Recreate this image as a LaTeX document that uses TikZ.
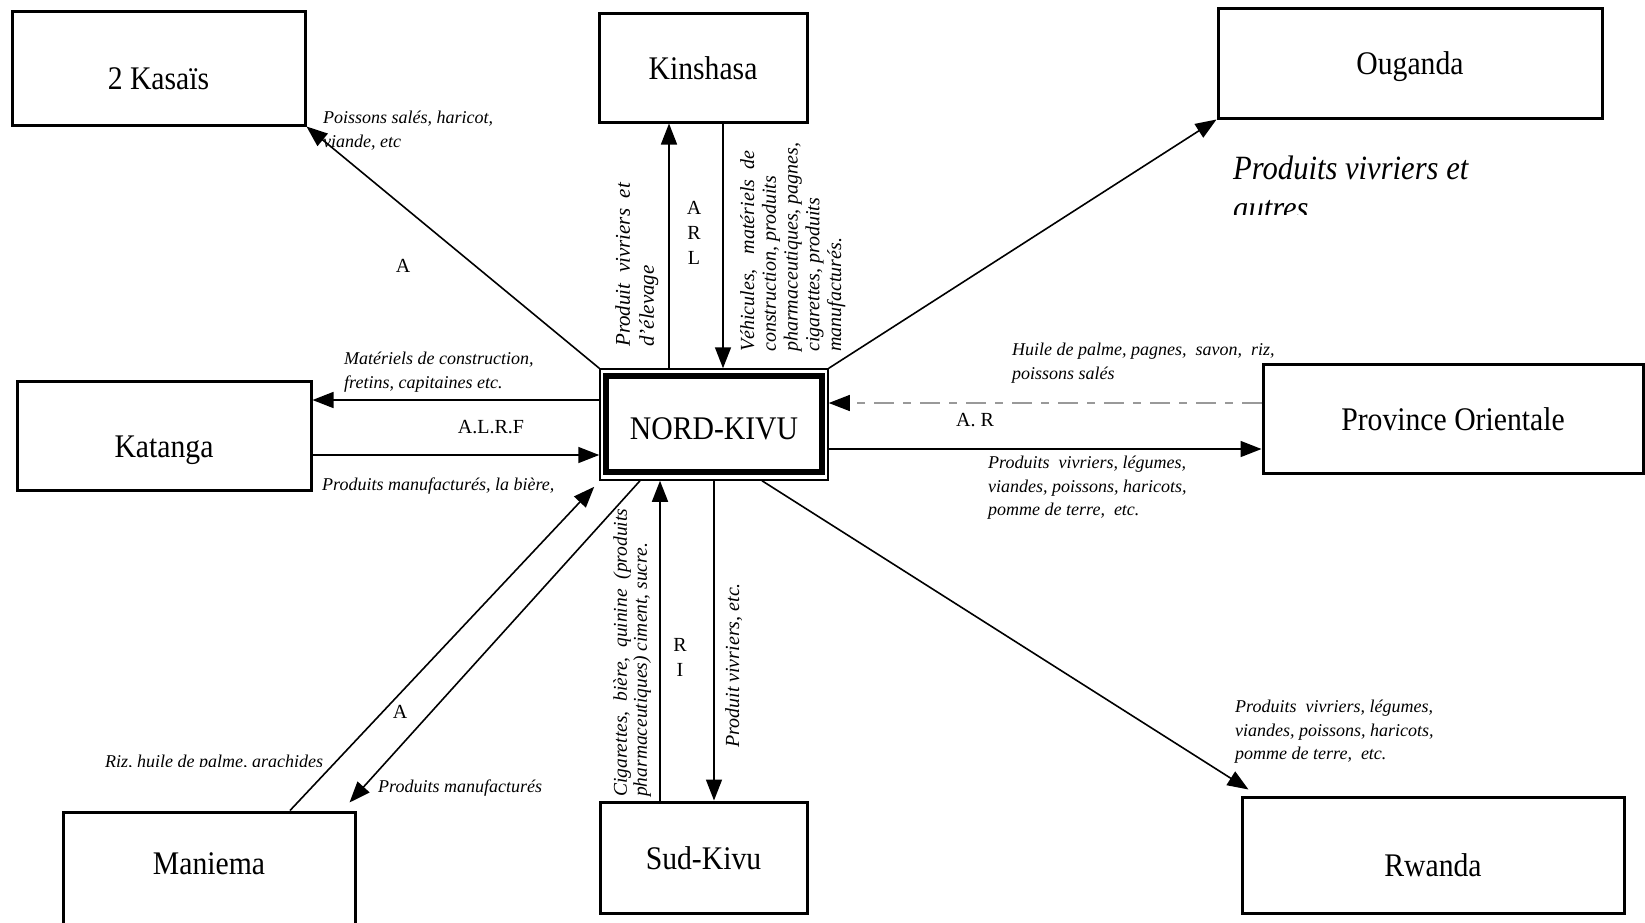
\documentclass[tikz,border=0pt]{standalone}
\usepackage{fontspec}
\setmainfont{Liberation Serif}
\newfontfamily\boxfont[FakeStretch=0.9]{Liberation Serif}
\usetikzlibrary{arrows.meta}

\tikzset{
  region/.style={draw, line width=3pt, inner sep=0pt, text height=23pt, text depth=0pt,
    font=\boxfont\fontsize{33}{36}\selectfont},
  dropped/.style={text height=#1},
  flow/.style={line width=1.6pt, -{Triangle[length=21pt,width=16pt,color=black]}},
  goods/.style={font=\itshape\fontsize{18}{23.5}\selectfont, align=left, inner sep=0pt, anchor=north west},
  goodsup/.style={goods, rotate=90, font=\itshape\fontsize{20}{21.75}\selectfont},
  route/.style={font=\fontsize{20}{25}\selectfont, align=center, inner sep=0pt},
}

\begin{document}
\begin{tikzpicture}[x=1pt,y=-1pt]
\useasboundingbox (0,0) rectangle (1645,922);

% provinces et pays
\node[region, minimum width=293pt, minimum height=114pt, dropped=43pt] (kas) at (158.5,68) {2 Kasaïs};
\node[region, minimum width=208pt, minimum height=109pt] (kin) at (703,67.5) {Kinshasa};
\node[region, minimum width=384pt, minimum height=110pt] (oug) at (1410,63) {Ouganda};
\node[region, minimum width=294pt, minimum height=109pt, dropped=43pt] (kat) at (164,435.5) {Katanga};
\node[region, minimum width=380pt, minimum height=109pt] (por) at (1453,418.5) {Province Orientale};
\node[region, minimum width=292pt, minimum height=112pt, text depth=10pt] (man) at (209,868) {Maniema};
\node[region, minimum width=207pt, minimum height=111pt] (sud) at (703.5,857.5) {Sud-Kivu};
\node[region, minimum width=382pt, minimum height=116pt, dropped=43pt] (rwa) at (1433,855) {Rwanda};

% Nord-Kivu au centre
\node[region, line width=1.5pt, minimum width=228pt, minimum height=111pt, dropped=29pt] (nk) at (714,424.5) {NORD-KIVU};
\draw[line width=6pt] ([shift={(6.5,8)}]nk.north west) rectangle ([shift={(-6.5,-8.5)}]nk.south east);

% flux
\draw[flow] (nk.north west) -- (kas.south east);
\draw[flow] ([shift={(-45,0)}]nk.north) -- ([shift={(-45,0)}]nk.north |- kin.south);
\draw[flow] ([shift={(9,0)}]nk.north |- kin.south) -- ([shift={(9,0)}]nk.north);
\draw[flow] (nk.north east) -- (oug.south west);
\draw[flow] ([shift={(0,-24.5)}]nk.west) -- ([shift={(0,-24.5)}]nk.west -| kat.east);
\draw[flow] ([shift={(0,30.5)}]nk.west -| kat.east) -- ([shift={(0,30.5)}]nk.west);
\draw[flow, draw=black!40, line width=1.2pt, dash pattern=on 20pt off 9pt on 8pt off 9pt]
  ([shift={(0,-21.5)}]nk.east -| por.west) -- ([shift={(0,-21.5)}]nk.east);
\draw[flow] ([shift={(0,24.5)}]nk.east) -- ([shift={(0,24.5)}]nk.east -| por.west);
\draw[flow] ([shift={(81,0)}]man.north) -- ([shift={(-5,6)}]nk.south west);
\draw[flow] ([shift={(-74,0)}]nk.south) -- ([shift={(-7,-8)}]man.north east);
\draw[flow] ([shift={(-54,0)}]nk.south |- sud.north) -- ([shift={(-54,0)}]nk.south);
\draw[flow] (nk.south) -- (nk.south |- sud.north);
\draw[flow] ([shift={(48,0)}]nk.south) -- ([shift={(8,-6)}]rwa.north west);

% produits
\node[goods] (kasgoods) at (323,111) {Poissons salés, haricot,\\viande, etc};
\node[goods] (katout) at (344,352) {Matériels de construction,\\fretins, capitaines etc.};
\node[goods] (katin) at (322,478) {Produits manufacturés, la bière,};
\node[goods] (porin) at (1012,343) {Huile de palme, pagnes,\ \ savon,\ \ riz,\\poissons salés};
\node[goods] (porout) at (988,456) {Produits\ \ vivriers, légumes,\\viandes, poissons, haricots,\\pomme de terre,\ \ etc.};
\node[goods] (rwagoods) at (1235,700) {Produits\ \ vivriers, légumes,\\viandes, poissons, haricots,\\pomme de terre,\ \ etc.};
\node[goods] (manin) at (378,780) {Produits manufacturés};
\begin{scope}
  \clip (90,740) rectangle (340,766);
  \node[goods, anchor=base west] (manout) at (105,767) {Riz, huile de palme, arachides};
\end{scope}
\begin{scope}
  \clip (1220,140) rectangle (1500,214);
  \node[goods, font=\boxfont\itshape\fontsize{34}{40}\selectfont] (ouggoods) at (1233,156) {Produits vivriers et\\autres};
\end{scope}

\node[goodsup, font=\itshape\fontsize{21}{24}\selectfont] (kinin) at (615,347) {Produit\ \ vivriers\ \ et\\d'élevage};
\node[goodsup] (kinout) at (740,352) {Véhicules,\ \ \ matériels\ \ de\\construction, produits\\pharmaceutiques, pagnes,\\cigarettes, produits\\manufacturés.};
\node[goodsup, font=\itshape\fontsize{19.5}{20}\selectfont] (sudin) at (613,797) {Cigarettes,\ \ bière,\ \ quinine\ \ (produits\\pharmaceutiques)\ ciment,\ sucre.};
\node[goodsup] (sudout) at (725,748) {Produit vivriers, etc.};

% moyens de transport
\node[route] (kasroute) at (403,266) {A};
\node[route] (kinroute) at (694,233) {A\\R\\L};
\node[route] (katroute) at (491,427) {A.L.R.F};
\node[route] (porroute) at (975,420) {A. R};
\node[route] (manroute) at (400,712) {A};
\node[route] (sudroute) at (680,657) {R\\I};
\end{tikzpicture}
\end{document}
